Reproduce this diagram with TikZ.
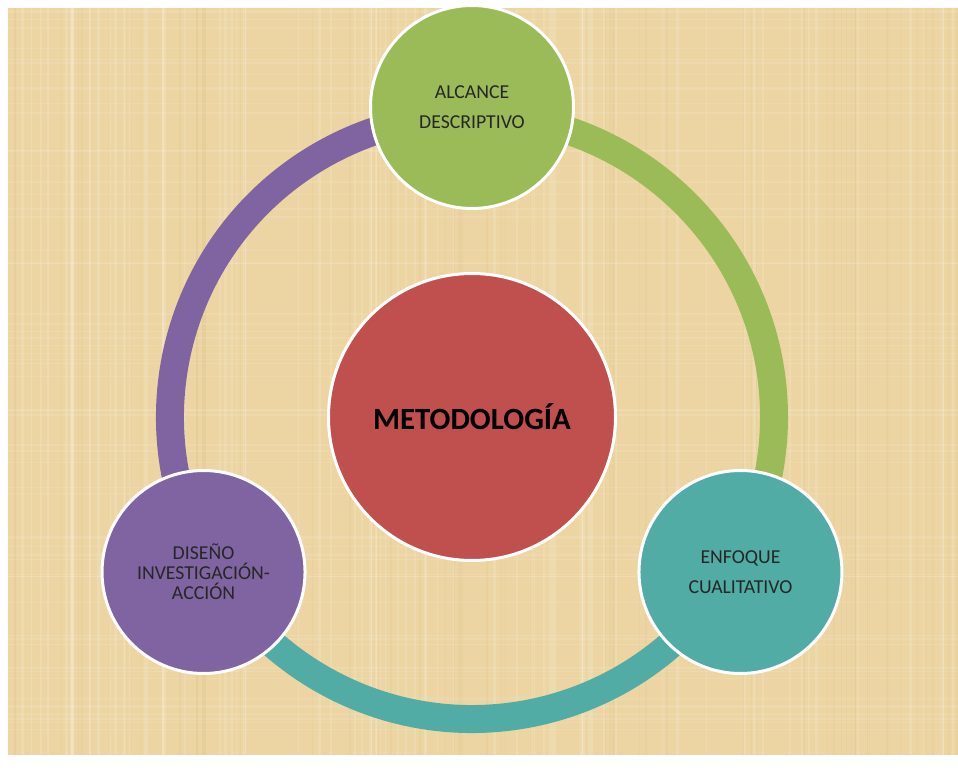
\documentclass[tikz,border=0pt]{standalone}
\usepackage{fontspec}
\setmainfont{Carlito}
\usetikzlibrary{positioning}
\definecolor{paper}{RGB}{236,213,162}
\definecolor{paperdark}{RGB}{214,186,128}
\definecolor{metred}{RGB}{192,80,77}
\definecolor{alcgreen}{RGB}{155,187,89}
\definecolor{enfteal}{RGB}{80,172,165}
\definecolor{dispurple}{RGB}{128,100,162}
\tikzset{
 ring/.style
  = {draw, line width=28bp},
 circ/.style
  = {circle, draw=white, line width=3bp, minimum size=203bp, inner sep=0pt,
     text=black!85, align=center, font=\fontsize{19.8}{30}\selectfont},
 mid/.style
  = {circ, minimum size=287bp, fill=metred, text=black,
     font=\fontsize{31}{36}\selectfont\bfseries}
}
\begin{document}
\begin{tikzpicture}[x=1bp, y=1bp]
    % paper background
    \fill[white] (0,0) rectangle (958,755);
    \fill[paper] (8,0) rectangle (958,747);
    \begin{scope}
    \clip (8,0) rectangle (958,747);
    \pgfmathsetseed{42}
    \foreach \k in {1,...,80}{
      \pgfmathsetmacro{\px}{8+950*rnd}
      \pgfmathsetmacro{\pw}{0.5+3*rnd}
      \draw[white, opacity=0.14, line width=\pw bp] (\px,0) -- (\px,747);
    }
    \foreach \k in {1,...,60}{
      \pgfmathsetmacro{\px}{8+950*rnd}
      \pgfmathsetmacro{\pw}{0.5+2*rnd}
      \draw[paperdark, opacity=0.12, line width=\pw bp] (\px,0) -- (\px,747);
    }
    \foreach \k in {1,...,60}{
      \pgfmathsetmacro{\py}{747*rnd}
      \pgfmathsetmacro{\pw}{0.5+2*rnd}
      \draw[white, opacity=0.1, line width=\pw bp] (8,\py) -- (958,\py);
    }
    \end{scope}

    \coordinate (centro) at (472,338);

    % cycle ring
    \draw[ring, alcgreen] ([shift={(90:302)}]centro) arc[start angle=90, end angle=-30, radius=302];
    \draw[ring, enfteal] ([shift={(-30:302)}]centro) arc[start angle=-30, end angle=-150, radius=302];
    \draw[ring, dispurple] ([shift={(-150:302)}]centro) arc[start angle=-150, end angle=-270, radius=302];

    \node [mid] (metodo) at (centro) {METODOLOGÍA};
    \node [circ, fill=alcgreen] (alcance) at ([shift={(90:310)}]centro) {ALCANCE\\DESCRIPTIVO};
    \node [circ, fill=enfteal] (enfoque) at ([shift={(-30:310)}]centro) {ENFOQUE\\CUALITATIVO};
    \node [circ, fill=dispurple, font=\fontsize{19.8}{20}\selectfont] (diseno) at ([shift={(-150:310)}]centro) {DISEÑO\\INVESTIGACIÓN-\\ACCIÓN};
\end{tikzpicture}
\end{document}
